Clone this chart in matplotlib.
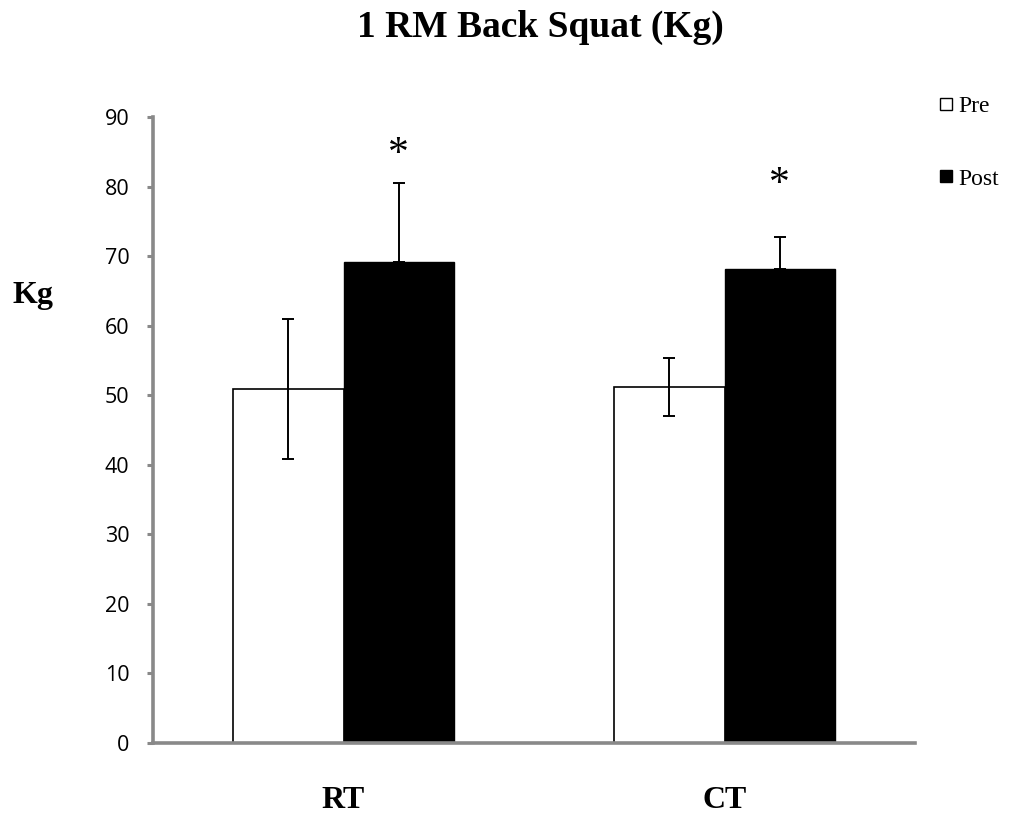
import numpy as np
import matplotlib
matplotlib.use("Agg")
import matplotlib.pyplot as plt
import matplotlib.transforms as mtransforms
from matplotlib.lines import Line2D

# ==========================================
# DATA
# ==========================================
groups = ["RT", "CT"]
pre_mean = [50.9, 51.2]
pre_err = [10.0, 4.15]
post_mean = [69.2, 68.1]
post_err = [11.3, 4.7]
star_y = [84.6, 80.3]  # where the "*" sits above each Post bar
y_ticks = [0, 10, 20, 30, 40, 50, 60, 70, 80, 90]
# ==========================================

AXIS_GRAY = "#898989"
SERIF = "Liberation Serif"

fig = plt.figure(figsize=(10.1, 8.18), dpi=100)
ax = fig.add_axes([0.1515, 0.0917, 0.7545, 0.7653])

x = np.arange(len(groups))
w = 0.289

ax.bar(x - w / 2, pre_mean, width=w, color="white", edgecolor="black", linewidth=1.2, zorder=2)
ax.bar(x + w / 2, post_mean, width=w, color="black", edgecolor="black", linewidth=1.0, zorder=2)
ax.errorbar(x - w / 2, pre_mean, yerr=pre_err, fmt="none", ecolor="black",
            elinewidth=1.4, capsize=4.5, capthick=1.4, zorder=3)
ax.errorbar(x + w / 2, post_mean, yerr=[[0, 0], post_err], fmt="none", ecolor="black",
            elinewidth=1.4, capsize=4.5, capthick=1.4, zorder=3)

for xi, sy in zip(x + w / 2, star_y):
    ax.text(xi, sy, "*", ha="center", va="center", fontsize=30, family=SERIF)

ax.set_xlim(-0.5, len(groups) - 0.5)
ax.set_ylim(0, 90)
ax.set_yticks(y_ticks)
ax.set_yticklabels([str(v) for v in y_ticks], fontsize=15.5, family=["Open Sans", "DejaVu Sans"])
ax.set_xticks([])

for side in ["top", "right"]:
    ax.spines[side].set_visible(False)
for side in ["left", "bottom"]:
    ax.spines[side].set_color(AXIS_GRAY)
    ax.spines[side].set_linewidth(2.6)
ax.tick_params(axis="y", direction="out", length=4, width=2.2, color=AXIS_GRAY, pad=13)

# category labels under the axis
trans = mtransforms.blended_transform_factory(ax.transData, ax.transAxes)
for xi, g in zip(x, groups):
    ax.text(xi, -0.104, g, transform=trans, ha="center", va="baseline",
            fontsize=23, fontweight="bold", family=SERIF)

fig.text(0.535, 0.9548, "1 RM Back Squat (Kg)", ha="center", va="baseline",
         fontsize=27, fontweight="bold", family=SERIF)
fig.text(0.033, 0.6296, "Kg", ha="center", va="baseline", fontsize=23, fontweight="bold", family=SERIF)

handles = [
    Line2D([], [], marker="s", linestyle="none", markerfacecolor="white",
           markeredgecolor="black", markersize=8, markeredgewidth=1.0),
    Line2D([], [], marker="s", linestyle="none", markerfacecolor="black",
           markeredgecolor="black", markersize=8),
]
fig.legend(handles, ["Pre", "Post"], loc="upper left", bbox_to_anchor=(0.930, 0.883),
           frameon=False, prop={"family": SERIF, "size": 17}, handlelength=0.6,
           handletextpad=0.2, labelspacing=2.15, borderaxespad=0, borderpad=0)

fig.savefig("out.png", dpi=100)
